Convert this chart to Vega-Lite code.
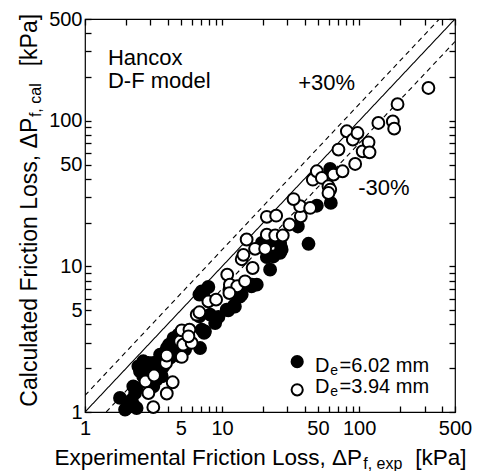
{
  "$schema": "https://vega.github.io/schema/vega-lite/v6.json",
  "width": 370,
  "height": 393,
  "autosize": {"type": "none"},
  "padding": {"left": 85, "top": 19, "right": 24, "bottom": 59},
  "background": "white",
  "config": {
    "view": {"stroke": "black", "strokeWidth": 1.2},
    "font": "Liberation Sans",
    "text": {"font": "Liberation Sans", "color": "black"}
  },
  "datasets": {
    "pts": [
      {"D": "6.02", "x": 1.8, "y": 1.25}, {"D": "6.02", "x": 1.96, "y": 1.04}, {"D": "6.02", "x": 2.01, "y": 1.065},
      {"D": "6.02", "x": 2.19, "y": 1.21}, {"D": "6.02", "x": 2.25, "y": 1.12}, {"D": "6.02", "x": 2.38, "y": 1.065},
      {"D": "6.02", "x": 2.32, "y": 1.35}, {"D": "6.02", "x": 2.38, "y": 1.46}, {"D": "6.02", "x": 2.25, "y": 1.5},
      {"D": "6.02", "x": 2.45, "y": 2.06}, {"D": "6.02", "x": 2.52, "y": 1.9}, {"D": "6.02", "x": 2.66, "y": 2.23},
      {"D": "6.02", "x": 2.66, "y": 1.76}, {"D": "6.02", "x": 2.9, "y": 1.9}, {"D": "6.02", "x": 2.9, "y": 2.17},
      {"D": "6.02", "x": 3.15, "y": 2.17}, {"D": "6.02", "x": 3.15, "y": 1.5}, {"D": "6.02", "x": 3.33, "y": 1.67},
      {"D": "6.02", "x": 3.53, "y": 1.85}, {"D": "6.02", "x": 3.63, "y": 1.76}, {"D": "6.02", "x": 3.6, "y": 1.97},
      {"D": "6.02", "x": 3.73, "y": 2.06}, {"D": "6.02", "x": 3.53, "y": 2.48}, {"D": "6.02", "x": 3.95, "y": 2.75},
      {"D": "6.02", "x": 4.1, "y": 2.9}, {"D": "6.02", "x": 4.17, "y": 2.35}, {"D": "6.02", "x": 4.29, "y": 2.68},
      {"D": "6.02", "x": 4.42, "y": 2.83}, {"D": "6.02", "x": 4.42, "y": 3.22}, {"D": "6.02", "x": 4.53, "y": 2.54},
      {"D": "6.02", "x": 4.8, "y": 3.4}, {"D": "6.02", "x": 4.94, "y": 2.41}, {"D": "6.02", "x": 5.37, "y": 2.68},
      {"D": "6.02", "x": 5.5, "y": 3.5}, {"D": "6.02", "x": 6.91, "y": 2.75}, {"D": "6.02", "x": 7.1, "y": 3.68},
      {"D": "6.02", "x": 7.39, "y": 3.49}, {"D": "6.02", "x": 7.5, "y": 3.57}, {"D": "6.02", "x": 6.83, "y": 4.54},
      {"D": "6.02", "x": 6.83, "y": 6.4}, {"D": "6.02", "x": 7.1, "y": 6.74}, {"D": "6.02", "x": 7.3, "y": 6.56},
      {"D": "6.02", "x": 7.94, "y": 7.22}, {"D": "6.02", "x": 8.18, "y": 4.66}, {"D": "6.02", "x": 8.9, "y": 4.08},
      {"D": "6.02", "x": 9.04, "y": 4.31}, {"D": "6.02", "x": 9.4, "y": 4.5}, {"D": "6.02", "x": 10.8, "y": 5.04},
      {"D": "6.02", "x": 11.1, "y": 4.99}, {"D": "6.02", "x": 12.2, "y": 5.37}, {"D": "6.02", "x": 12.4, "y": 5.3},
      {"D": "6.02", "x": 12.8, "y": 6.2}, {"D": "6.02", "x": 13.5, "y": 6.2}, {"D": "6.02", "x": 13.9, "y": 6.4},
      {"D": "6.02", "x": 11.3, "y": 6.9}, {"D": "6.02", "x": 15.1, "y": 7.7}, {"D": "6.02", "x": 16.4, "y": 7.3},
      {"D": "6.02", "x": 16.5, "y": 7.5}, {"D": "6.02", "x": 17.9, "y": 7.49}, {"D": "6.02", "x": 19.5, "y": 14.5},
      {"D": "6.02", "x": 21.2, "y": 11.6}, {"D": "6.02", "x": 22.4, "y": 9.5}, {"D": "6.02", "x": 22.4, "y": 14.9},
      {"D": "6.02", "x": 23.7, "y": 11.7}, {"D": "6.02", "x": 23.7, "y": 15.3}, {"D": "6.02", "x": 26.5, "y": 12.4},
      {"D": "6.02", "x": 27.0, "y": 13.4}, {"D": "6.02", "x": 27.2, "y": 13.0}, {"D": "6.02", "x": 26.5, "y": 14.5},
      {"D": "6.02", "x": 35.7, "y": 18.8}, {"D": "6.02", "x": 42.7, "y": 14.3}, {"D": "6.02", "x": 49.1, "y": 26.1},
      {"D": "6.02", "x": 61.4, "y": 46.7}, {"D": "6.02", "x": 62.1, "y": 27.3},
      {"D": "3.94", "x": 2.76, "y": 1.62}, {"D": "3.94", "x": 2.9, "y": 1.35}, {"D": "3.94", "x": 3.19, "y": 1.78},
      {"D": "3.94", "x": 3.15, "y": 1.08}, {"D": "3.94", "x": 3.95, "y": 1.34}, {"D": "3.94", "x": 4.36, "y": 1.6},
      {"D": "3.94", "x": 3.9, "y": 2.17}, {"D": "3.94", "x": 3.95, "y": 2.44}, {"D": "3.94", "x": 4.94, "y": 3.06},
      {"D": "3.94", "x": 5.08, "y": 2.39}, {"D": "3.94", "x": 5.2, "y": 2.9}, {"D": "3.94", "x": 6.0, "y": 2.98},
      {"D": "3.94", "x": 5.08, "y": 3.64}, {"D": "3.94", "x": 5.78, "y": 3.68}, {"D": "3.94", "x": 5.68, "y": 3.31},
      {"D": "3.94", "x": 6.53, "y": 4.66}, {"D": "3.94", "x": 6.83, "y": 4.84}, {"D": "3.94", "x": 7.94, "y": 5.75},
      {"D": "3.94", "x": 9.04, "y": 5.91}, {"D": "3.94", "x": 10.9, "y": 8.78}, {"D": "3.94", "x": 11.4, "y": 7.49},
      {"D": "3.94", "x": 12.9, "y": 7.3}, {"D": "3.94", "x": 11.3, "y": 6.56}, {"D": "3.94", "x": 14.7, "y": 7.9},
      {"D": "3.94", "x": 13.9, "y": 11.2}, {"D": "3.94", "x": 14.3, "y": 12.0}, {"D": "3.94", "x": 15.1, "y": 15.3},
      {"D": "3.94", "x": 16.7, "y": 9.75}, {"D": "3.94", "x": 17.4, "y": 13.2}, {"D": "3.94", "x": 20.6, "y": 13.2},
      {"D": "3.94", "x": 21.2, "y": 16.5}, {"D": "3.94", "x": 24.4, "y": 16.3}, {"D": "3.94", "x": 27.7, "y": 16.3},
      {"D": "3.94", "x": 21.2, "y": 21.9}, {"D": "3.94", "x": 24.8, "y": 22.3}, {"D": "3.94", "x": 31.0, "y": 19.4},
      {"D": "3.94", "x": 37.5, "y": 22.1}, {"D": "3.94", "x": 37.1, "y": 25.9}, {"D": "3.94", "x": 43.9, "y": 25.2},
      {"D": "3.94", "x": 33.2, "y": 29.0}, {"D": "3.94", "x": 45.9, "y": 39.4}, {"D": "3.94", "x": 49.1, "y": 45.0},
      {"D": "3.94", "x": 53.4, "y": 40.5}, {"D": "3.94", "x": 59.7, "y": 35.5}, {"D": "3.94", "x": 61.5, "y": 33.7},
      {"D": "3.94", "x": 59.7, "y": 31.9}, {"D": "3.94", "x": 65.0, "y": 42.7}, {"D": "3.94", "x": 75.6, "y": 45.0},
      {"D": "3.94", "x": 70.6, "y": 63.4}, {"D": "3.94", "x": 81.3, "y": 84.7}, {"D": "3.94", "x": 89.9, "y": 74.2},
      {"D": "3.94", "x": 97.2, "y": 82.4}, {"D": "3.94", "x": 93.5, "y": 50.5}, {"D": "3.94", "x": 106, "y": 61.7},
      {"D": "3.94", "x": 117, "y": 71.1}, {"D": "3.94", "x": 119, "y": 60.7}, {"D": "3.94", "x": 138, "y": 96.6},
      {"D": "3.94", "x": 176, "y": 99}, {"D": "3.94", "x": 180, "y": 88.3}, {"D": "3.94", "x": 190.5, "y": 130},
      {"D": "3.94", "x": 320, "y": 168}
    ]
  },
  "resolve": {"axis": {"x": "independent", "y": "independent"}},
  "layer": [
    {
      "data": {"values": [
        {"line": "ideal", "x": 1, "y": 1}, {"line": "ideal", "x": 500, "y": 500},
        {"line": "plus", "x": 1, "y": 1.3}, {"line": "plus", "x": 384.6, "y": 500},
        {"line": "minus", "x": 1.4286, "y": 1}, {"line": "minus", "x": 500, "y": 350}
      ]},
      "mark": {"type": "line", "color": "black", "strokeWidth": 1.1, "clip": true},
      "encoding": {
        "x": {"field": "x", "type": "quantitative",
          "scale": {"type": "log", "domain": [1, 500], "nice": false},
          "axis": {"orient": "bottom", "title": null, "domain": false, "grid": false,
            "values": [1,2,3,4,5,6,7,8,9,10,20,30,40,50,60,70,80,90,100,200,300,400,500],
            "format": "d",
            "labelExpr": "indexof([1,5,10,50,100,500], datum.value) >= 0 ? datum.label : ''",
            "labelOverlap": false, "labelFlush": false,
            "labelFont": "Liberation Sans", "labelFontSize": 20, "labelColor": "black",
            "labelPadding": 12, "tickColor": "black", "tickWidth": 1.3, "ticks": true,
            "tickSize": -6}},
        "y": {"field": "y", "type": "quantitative",
          "scale": {"type": "log", "domain": [1, 500], "nice": false},
          "axis": {"orient": "left", "title": null, "domain": false, "grid": false,
            "values": [1,2,3,4,5,6,7,8,9,10,20,30,40,50,60,70,80,90,100,200,300,400,500],
            "format": "d",
            "labelExpr": "indexof([1,5,10,50,100,500], datum.value) >= 0 ? datum.label : ''",
            "labelOverlap": false, "labelFlush": false,
            "labelFont": "Liberation Sans", "labelFontSize": 20, "labelColor": "black",
            "labelPadding": 9, "tickColor": "black", "tickWidth": 1.3, "ticks": true,
            "tickSize": -6}},
        "detail": {"field": "line"},
        "strokeDash": {"field": "line", "type": "nominal",
          "scale": {"domain": ["ideal", "plus", "minus"], "range": [[1, 0], [5, 4], [5, 4]]},
          "legend": null}
      }
    },
    {
      "data": {"name": "pts"},
      "mark": {"type": "point", "shape": "circle", "filled": true, "stroke": "black", "strokeWidth": 2, "size": 140, "opacity": 1},
      "encoding": {
        "x": {"field": "x", "type": "quantitative",
          "axis": {"orient": "top", "title": null, "domain": false, "grid": false, "labels": false,
            "values": [1,2,3,4,5,6,7,8,9,10,20,30,40,50,60,70,80,90,100,200,300,400,500],
            "tickColor": "black", "tickWidth": 1.3, "ticks": true, "tickSize": -6}},
        "y": {"field": "y", "type": "quantitative",
          "axis": {"orient": "right", "title": null, "domain": false, "grid": false, "labels": false,
            "values": [1,2,3,4,5,6,7,8,9,10,20,30,40,50,60,70,80,90,100,200,300,400,500],
            "tickColor": "black", "tickWidth": 1.3, "ticks": true, "tickSize": -6}},
        "fill": {"field": "D", "type": "nominal",
          "scale": {"domain": ["6.02", "3.94"], "range": ["black", "white"]}, "legend": null}
      }
    },
    {
      "data": {"values": [
        {"t": "Hancox", "x": 1.47, "y": 240},
        {"t": "D-F model", "x": 1.47, "y": 168},
        {"t": "+30%", "x": 35.9, "y": 163.6},
        {"t": "-30%", "x": 98.3, "y": 31.1}
      ]},
      "mark": {"type": "text", "align": "left", "baseline": "alphabetic", "fontSize": 22},
      "encoding": {
        "x": {"field": "x", "type": "quantitative", "axis": null},
        "y": {"field": "y", "type": "quantitative", "axis": null},
        "text": {"field": "t"}
      }
    },
    {
      "data": {"values": [
        {"D": "6.02", "x": 35.3, "y": 2.216},
        {"D": "3.94", "x": 35.3, "y": 1.42}
      ]},
      "mark": {"type": "point", "shape": "circle", "filled": true, "stroke": "black", "strokeWidth": 2, "size": 125, "opacity": 1},
      "encoding": {
        "x": {"field": "x", "type": "quantitative", "axis": null},
        "y": {"field": "y", "type": "quantitative", "axis": null},
        "fill": {"field": "D", "type": "nominal", "legend": null}
      }
    },
    {
      "data": {"values": [
        {"t": "D", "x": 47.7, "y": 1.89},
        {"t": "D", "x": 47.7, "y": 1.35},
        {"t": "=6.02 mm", "x": 72, "y": 1.89},
        {"t": "=3.94 mm", "x": 72, "y": 1.35}
      ]},
      "mark": {"type": "text", "align": "left", "baseline": "alphabetic", "fontSize": 20},
      "encoding": {
        "x": {"field": "x", "type": "quantitative", "axis": null},
        "y": {"field": "y", "type": "quantitative", "axis": null},
        "text": {"field": "t"}
      }
    },
    {
      "data": {"values": [
        {"t": "e", "x": 61.5, "y": 1.80},
        {"t": "e", "x": 61.5, "y": 1.28}
      ]},
      "mark": {"type": "text", "align": "left", "baseline": "alphabetic", "fontSize": 14},
      "encoding": {
        "x": {"field": "x", "type": "quantitative", "axis": null},
        "y": {"field": "y", "type": "quantitative", "axis": null},
        "text": {"field": "t"}
      }
    },
    {
      "data": {"values": [
        {"t": "Experimental Friction Loss, ΔP", "x": 105, "y": 0.435}
      ]},
      "mark": {"type": "text", "align": "right", "baseline": "alphabetic", "fontSize": 22.5, "clip": false},
      "encoding": {
        "x": {"field": "x", "type": "quantitative", "axis": null},
        "y": {"field": "y", "type": "quantitative", "axis": null},
        "text": {"field": "t"}
      }
    },
    {
      "data": {"values": [
        {"t": "[kPa]", "x": 256, "y": 0.435}
      ]},
      "mark": {"type": "text", "align": "left", "baseline": "alphabetic", "fontSize": 22.5, "clip": false},
      "encoding": {
        "x": {"field": "x", "type": "quantitative", "axis": null},
        "y": {"field": "y", "type": "quantitative", "axis": null},
        "text": {"field": "t"}
      }
    },
    {
      "data": {"values": [
        {"t": "f, exp", "x": 107, "y": 0.408}
      ]},
      "mark": {"type": "text", "align": "left", "baseline": "alphabetic", "fontSize": 16, "clip": false},
      "encoding": {
        "x": {"field": "x", "type": "quantitative", "axis": null},
        "y": {"field": "y", "type": "quantitative", "axis": null},
        "text": {"field": "t"}
      }
    },
    {
      "data": {"values": [
        {"t": "Calculated Friction Loss, ΔP", "x": 0.446, "y": 105}
      ]},
      "mark": {"type": "text", "align": "right", "baseline": "alphabetic", "angle": 270, "fontSize": 23, "clip": false},
      "encoding": {
        "x": {"field": "x", "type": "quantitative", "axis": null},
        "y": {"field": "y", "type": "quantitative", "axis": null},
        "text": {"field": "t"}
      }
    },
    {
      "data": {"values": [
        {"t": "[kPa]", "x": 0.446, "y": 236.6}
      ]},
      "mark": {"type": "text", "align": "left", "baseline": "alphabetic", "angle": 270, "fontSize": 23, "clip": false},
      "encoding": {
        "x": {"field": "x", "type": "quantitative", "axis": null},
        "y": {"field": "y", "type": "quantitative", "axis": null},
        "text": {"field": "t"}
      }
    },
    {
      "data": {"values": [
        {"t": "f, cal", "x": 0.477, "y": 106}
      ]},
      "mark": {"type": "text", "align": "left", "baseline": "alphabetic", "angle": 270, "fontSize": 16, "clip": false},
      "encoding": {
        "x": {"field": "x", "type": "quantitative", "axis": null},
        "y": {"field": "y", "type": "quantitative", "axis": null},
        "text": {"field": "t"}
      }
    }
  ]
}
